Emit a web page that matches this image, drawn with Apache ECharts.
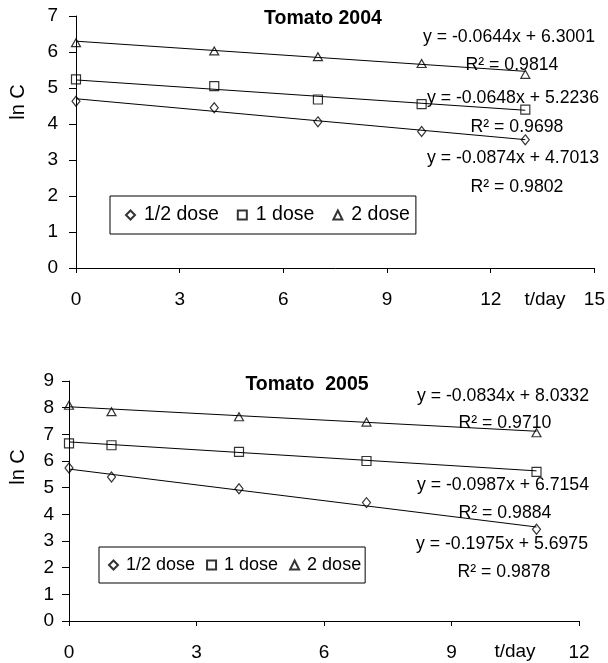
<!DOCTYPE html>
<html><head><meta charset="utf-8">
<script src="https://cdn.jsdelivr.net/npm/echarts@6/dist/echarts.min.js"></script>
<style>html,body{margin:0;padding:0;background:#fff}#c{width:608px;height:663px}</style>
</head><body><div id="c"></div>
<script>
const FONT = 'Liberation Sans, Arial, sans-serif';
const seriesNames = ['1/2 dose', '1 dose', '2 dose'];
const symbols = ['diamond', 'rect', 'triangle'];
const symbolSizes = [[8, 10], [9, 9], [9, 8]];

// Tomato 2004
const days2004 = [0, 4, 7, 10, 13];
const half2004 = [4.63, 4.45, 4.06, 3.79, 3.56];
const one2004 = [5.24, 5.05, 4.68, 4.55, 4.40];
const two2004 = [6.26, 6.03, 5.87, 5.68, 5.38];
const slopes2004 = [-0.0874, -0.0648, -0.0644];
const intercepts2004 = [4.7013, 5.2236, 6.3001];
const r2_2004 = ['0.9802', '0.9698', '0.9814'];
const xTicks2004 = [0, 3, 6, 9, 12, 15];
const yTicks2004 = [0, 1, 2, 3, 4, 5, 6, 7];

// Tomato 2005
const days2005 = [0, 1, 4, 7, 11];
const half2005 = [5.74, 5.40, 4.96, 4.44, 3.44];
const one2005 = [6.66, 6.59, 6.34, 6.00, 5.59];
const two2005 = [8.09, 7.85, 7.66, 7.46, 7.06];
const slopes2005 = [-0.1975, -0.0987, -0.0834];
const intercepts2005 = [5.6975, 6.7154, 8.0332];
const r2_2005 = ['0.9878', '0.9884', '0.9710'];
const xTicks2005 = [0, 3, 6, 9, 12];
const yTicks2005 = [0, 1, 2, 3, 4, 5, 6, 7, 8, 9];

const chart = echarts.init(document.getElementById('c'), null, {renderer: 'canvas'});

function axisX(idx, ticks, margin) {
  return {
    type: 'value', gridIndex: idx, min: ticks[0], max: ticks[ticks.length - 1],
    interval: ticks[1] - ticks[0],
    axisLine: {show: true, onZero: false, lineStyle: {color: '#000', width: 1}},
    axisTick: {show: true, length: 5, lineStyle: {color: '#000'}},
    splitLine: {show: false},
    axisLabel: {color: '#000', fontSize: 19, fontFamily: FONT, margin: margin}
  };
}
function axisY(idx, ticks, margin) {
  return {
    type: 'value', gridIndex: idx, min: ticks[0], max: ticks[ticks.length - 1],
    interval: ticks[1] - ticks[0],
    axisLine: {show: true, onZero: false, lineStyle: {color: '#000', width: 1}},
    axisTick: {show: true, length: 7, lineStyle: {color: '#000'}},
    splitLine: {show: false},
    axisLabel: {color: '#000', fontSize: 19, fontFamily: FONT, margin: margin}
  };
}

const series = [];
function addChart(idx, days, sets, slopes, intercepts) {
  sets.forEach((vals, i) => {
    series.push({
      name: seriesNames[i], type: 'scatter', xAxisIndex: idx, yAxisIndex: idx,
      symbol: symbols[i], symbolSize: symbolSizes[i],
      itemStyle: {color: 'rgba(0,0,0,0)', borderColor: '#000', borderWidth: 1.2},
      data: days.map((d, k) => [d, vals[k]]), z: 3
    });
    const xEnd = days[days.length - 1];
    series.push({
      name: 'trend', type: 'line', xAxisIndex: idx, yAxisIndex: idx,
      symbol: 'none', lineStyle: {color: '#000', width: 1}, silent: true,
      data: [[0, intercepts[i]], [xEnd, intercepts[i] + slopes[i] * xEnd]], z: 2
    });
  });
}
addChart(0, days2004, [half2004, one2004, two2004], slopes2004, intercepts2004);
addChart(1, days2005, [half2005, one2005, two2005], slopes2005, intercepts2005);

function eqText(slope, intercept) {
  return 'y = ' + slope.toFixed(4) + 'x + ' + intercept.toFixed(4);
}
const txtStyle = {fill: '#000', fontSize: 17.7, fontFamily: FONT, align: 'center', verticalAlign: 'middle'};
function t(text, x, y, extra) {
  return {type: 'text', x: x, y: y, style: Object.assign({text: text}, txtStyle, extra || {})};
}
const eqPos2004 = [[513, 158, 517, 187], [513, 98, 517, 127], [509, 37, 512, 65]];
const eqPos2005 = [[502, 544, 504, 572], [503, 485, 505, 513], [503, 396, 505, 423]];
const graphics = [];
[0, 1, 2].forEach(i => {
  const p = eqPos2004[i];
  graphics.push(t(eqText(slopes2004[i], intercepts2004[i]), p[0], p[1]));
  graphics.push(t('R² = ' + r2_2004[i], p[2], p[3]));
  const q = eqPos2005[i];
  graphics.push(t(eqText(slopes2005[i], intercepts2005[i]), q[0], q[1]));
  graphics.push(t('R² = ' + r2_2005[i], q[2], q[3]));
});
graphics.push(t('t/day', 545, 300, {fontSize: 19}));
graphics.push(t('t/day', 515, 652, {fontSize: 19}));
graphics.push(t('ln C', 18, 102, {fontSize: 20}));
graphics[graphics.length - 1].rotation = Math.PI / 2;
graphics.push(t('ln C', 18, 467, {fontSize: 20}));
graphics[graphics.length - 1].rotation = Math.PI / 2;
graphics.push(t('Tomato 2004', 323, 19, {fontSize: 19.5, fontWeight: 'bold'}));
graphics.push(t('Tomato  2005', 307, 385, {fontSize: 19.5, fontWeight: 'bold'}));

function legend(left, top, fs, gap, pad, textPad) {
  return {
    left: left, top: top, orient: 'horizontal',
    data: seriesNames.map(n => ({name: n})),
    itemWidth: 9, itemHeight: 9, itemGap: gap,
    borderColor: '#000', borderWidth: 1, padding: pad,
    textStyle: {color: '#000', fontSize: fs, fontFamily: FONT, padding: [0, 0, 0, textPad]},
    selectedMode: false
  };
}

chart.setOption({
  animation: false,
  backgroundColor: '#fff',
  grid: [
    {left: 76, right: 12, top: 16, height: 252},
    {left: 69, right: 29, top: 381, height: 240}
  ],
  xAxis: [axisX(0, xTicks2004, 22), axisX(1, xTicks2005, 22)],
  yAxis: [axisY(0, yTicks2004, 18), axisY(1, yTicks2005, 15)],
  legend: [legend(110, 196, 19.5, 18, [9, 6, 9, 15], 4), legend(99, 547, 18, 11, [9, 4, 9, 9], 3)],
  series: series,
  graphic: graphics
});
</script></body></html>
